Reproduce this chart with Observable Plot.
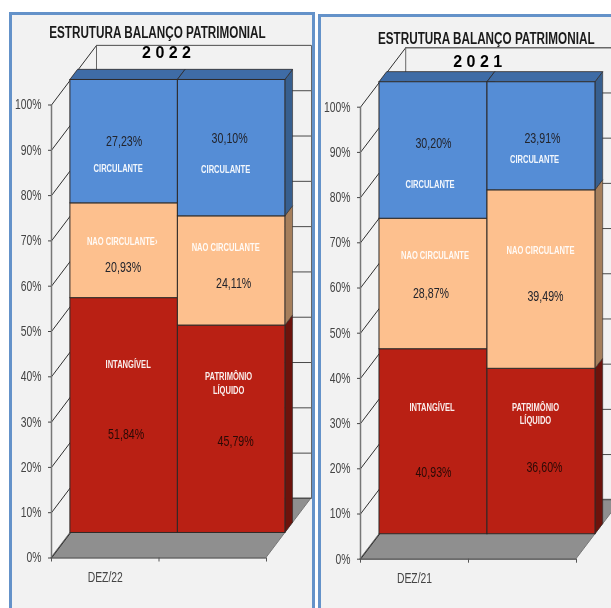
<!DOCTYPE html>
<html>
<head>
<meta charset="utf-8">
<script src="https://cdn.jsdelivr.net/npm/d3@7"></script>
<script src="https://cdn.jsdelivr.net/npm/@observablehq/plot@0.6"></script>
<style>
  html, body { margin: 0; padding: 0; background: #fff; overflow: hidden; width: 611px; height: 608px; }
  .panel { position: absolute; box-sizing: border-box; background: #f2f2f2; border: 3px solid #6492c9; }
  .chart { position: absolute; left: 0; top: 0; filter: blur(0.3px); }
  svg { background: transparent !important; }
  g.heading { transform-box: fill-box; transform-origin: center; transform: scaleX(0.69); }
</style>
</head>
<body>
<div class="panel" style="left:9px;top:12px;width:306px;height:620px"></div>
<div class="panel" style="left:318px;top:14px;width:320px;height:620px"></div>
<div class="chart" id="c1"></div>
<div class="chart" id="c2"></div>
<script>
const chartTitle = "ESTRUTURA BALANÇO PATRIMONIAL";
const years = ["2 0 2 2", "2 0 2 1"];
const periods = ["DEZ/22", "DEZ/21"];
const layers = ["red", "orange", "blue"];

const assets2022 = [51.84, 20.93, 27.23];
const claims2022 = [45.79, 24.11, 30.10];
const assets2021 = [40.93, 28.87, 30.20];
const claims2021 = [36.60, 39.49, 23.91];

const assetNames2022 = ["INTANGÍVEL", "NAO CIRCULANTE›", "CIRCULANTE"];
const assetNames2021 = ["INTANGÍVEL", "NAO CIRCULANTE", "CIRCULANTE"];
const claimNames = ["PATRIMÔNIO\nLÍQUIDO", "NAO CIRCULANTE", "CIRCULANTE"];

const yTicks = d3.range(0, 101, 10);
const xTicks = [0, 1, 2];

// styles
const frontFill = {red: "#b92014", orange: "#fdc08e", blue: "#558dd6"};
const sideFill = {red: "#6c130c", orange: "#a67f5c", blue: "#375f8f"};
const topFill = "#3f6ca6";
const edge = "#2e2a28";
const grid = "#4a4a4a";
const sans = "'Liberation Sans', sans-serif";

// 3D layout, in data units
const DX = 0.4186, DY = 13.15;   // shift from the front plane to the back wall
const barFront = 0.42, barBack = 0.59;
const px = (x, d) => x + d * DX;
const py = (y, d) => y + d * DY;

function panel(el, cfg) {
  const columns = [
    {i: 0, values: cfg.assets, names: cfg.assetNames, nameOff: cfg.off[0], valueOff: cfg.off[1]},
    {i: 1, values: cfg.claims, names: claimNames, nameOff: cfg.off[2], valueOff: cfg.off[3]}
  ];
  const fronts = [], sides = [], tops = [], nameLabels = [], valueLabels = [];
  columns.forEach(c => {
    let base = 0;
    c.values.forEach((v, j) => {
      const seg = {layer: layers[j], x1: px(c.i, barFront), x2: px(c.i + 1, barFront), y1: py(base, barFront), y2: py(base + v, barFront)};
      fronts.push(seg);
      const k = c.i + "-" + j;
      [barFront, barBack].forEach(d => sides.push({k, layer: layers[j], x: px(c.i + 1, d), y1: py(base, d), y2: py(base + v, d)}));
      const cx = (seg.x1 + seg.x2) / 2, cy = (seg.y1 + seg.y2) / 2;
      nameLabels.push({x: cx, y: cy, text: c.names[j], dx: c.nameOff[j][0], dy: c.nameOff[j][1]});
      valueLabels.push({x: cx, y: cy, text: v.toFixed(2).replace(".", ",") + "%", dx: c.valueOff[j][0], dy: c.valueOff[j][1], layer: layers[j]});
      base += v;
    });
    [barFront, barBack].forEach(d => tops.push({k: c.i, x1: px(c.i, d), x2: px(c.i + 1, d), y: py(100, d)}));
  });

  const floor = [0, 1].map(d => ({x1: px(0, d), x2: px(2, d), y: py(0, d)}));
  const leftGrid = yTicks.flatMap(t => [0, 1].map(d => ({t, x: px(0, d), y: py(t, d)})));
  const wallFrame = [{x: px(0, 1), y: py(0, 1)}, {x: px(0, 1), y: py(100, 1)}, {x: px(2, 1), y: py(100, 1)}, {x: px(2, 1), y: py(0, 1)}];

  const nameMarks = nameLabels.map(d => Plot.text([d], {x: "x", y: "y", text: "text", dx: d.dx, dy: d.dy, fill: "#fff", fillOpacity: 0.92, fontSize: 10.5, fontWeight: "bold", fontFamily: sans, lineHeight: 1.25, className: "names"}));
  const valueMarks = valueLabels.map(d => Plot.text([d], {x: "x", y: "y", text: "text", dx: d.dx, dy: d.dy, fill: d.layer === "red" ? "#2a0a06" : "#22242c", fontSize: 14, fontFamily: sans, className: "values"}));

  const marks = [
    Plot.area(floor, {x1: "x1", x2: "x2", y1: "y", y2: "y", fill: "#8f8f8f", stroke: "#777", strokeWidth: 1}),
    Plot.ruleY(yTicks, {y: d => py(d, 1), x1: px(0, 1), x2: px(2, 1), stroke: grid, strokeWidth: 1}),
    Plot.line(leftGrid, {x: "x", y: "y", z: "t", stroke: "#2f2f2f", strokeWidth: 1}),
    Plot.line(wallFrame, {x: "x", y: "y", stroke: "#666", strokeWidth: 1}),
    Plot.ruleX([0], {y1: 0, y2: 100, stroke: "#777", strokeWidth: 1.5}),
    Plot.ruleY([0], {x1: 0, x2: 2, stroke: "#555", strokeWidth: 1.2}),
    Plot.area(sides, {x1: "x", x2: "x", y1: "y1", y2: "y2", z: "k", fill: d => sideFill[d.layer], stroke: edge, strokeWidth: 0.6}),
    Plot.area(tops, {x1: "x1", x2: "x2", y1: "y", y2: "y", z: "k", fill: topFill, stroke: edge, strokeWidth: 0.8}),
    Plot.rect(fronts, {x1: "x1", x2: "x2", y1: "y1", y2: "y2", fill: d => frontFill[d.layer], stroke: edge, strokeWidth: 1}),
    Plot.axisY({ticks: yTicks, tickFormat: d => d + "%", tickSize: 3, tickPadding: 7, anchor: "left", label: null, fontSize: 14, fontFamily: sans, color: "#444", className: "axis"}),
    Plot.axisX({ticks: xTicks, tickFormat: () => "", tickSize: 4, anchor: "bottom", label: null, color: "#555", className: "axis"}),
    Plot.axisX({ticks: [0.5], tickFormat: () => cfg.period, tickSize: 0, tickPadding: 14, anchor: "bottom", label: null, fontSize: 14, fontFamily: sans, color: "#444", className: "axis"}),
    ...nameMarks,
    ...valueMarks,
    Plot.text([chartTitle], {x: cfg.titleAt[0], y: cfg.titleAt[1], text: d => d, fontSize: 17, fontWeight: "bold", fontFamily: sans, fill: "#1a1a1a", className: "heading"}),
    Plot.text([cfg.year], {x: cfg.yearAt[0], y: cfg.yearAt[1], text: d => d, fontSize: 16, fontWeight: "bold", fontFamily: sans, fill: "#000"})
  ];

  const svg = Plot.plot({
    width: 611,
    height: 608,
    marginLeft: cfg.xRange[0],
    marginRight: 611 - cfg.xRange[1],
    marginTop: cfg.yRange[1],
    marginBottom: 608 - cfg.yRange[0],
    x: {domain: [0, 2]},
    y: {domain: [0, 100]},
    style: {background: "transparent", overflow: "visible"},
    marks
  });
  document.getElementById(el).append(svg);

  // No narrow face is installed: condense the real text to the reference's widths.
  const condense = {names: 0.72, values: 0.76, axis: 0.74};
  Object.entries(condense).forEach(([cls, k]) => {
    svg.querySelectorAll(`g.${cls} text`).forEach(t => {
      const spans = t.querySelectorAll("tspan");
      (spans.length ? [...spans] : [t]).forEach(n => {
        n.setAttribute("textLength", n.getComputedTextLength() * k);
        n.setAttribute("lengthAdjust", "spacingAndGlyphs");
      });
    });
  });
}

panel("c1", {
  assets: assets2022, assetNames: assetNames2022, claims: claims2022,
  year: years[0], period: periods[0],
  xRange: [51, 266], yRange: [557.5, 104.5],
  titleAt: [0.99, 115.9], yearAt: [1.07, 111.5],
  off: [
    [[4, -52], [-2, -9.5], [-6, 26.6]],
    [[2, 19], [-1, 16.5], [0, 0]],
    [[-3, -46.5], [-6, -23.7], [-6, 21]],
    [[4, 12], [2, 12.3], [-2, -10]]
  ]
});
panel("c2", {
  assets: assets2021, assetNames: assetNames2021, claims: claims2021,
  year: years[1], period: periods[1],
  xRange: [360, 576], yRange: [558.7, 106.7],
  titleAt: [1.169, 115], yearAt: [1.085, 110.1],
  off: [
    [[-1.5, -34.5], [1.5, -28.7], [-3.5, 33]],
    [[0, 30.5], [-2.5, 9.3], [0, -7]],
    [[-6, -38], [-1, -29.3], [-7, 23]],
    [[3, 15.7], [4, 16.7], [1, 2]]
  ]
});
</script>
</body>
</html>
